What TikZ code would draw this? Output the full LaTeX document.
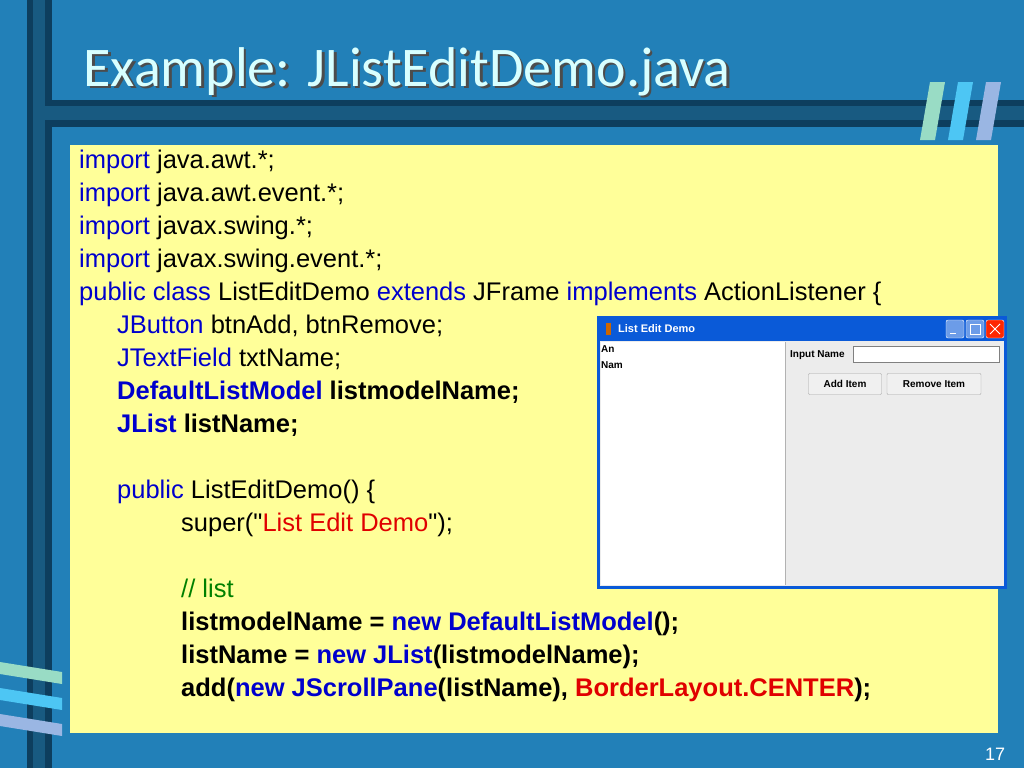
\documentclass[tikz,border=0pt]{standalone}
\usepackage{fontspec}
\setmainfont{Liberation Sans}
\newfontfamily\titlefont{Carlito}
\usetikzlibrary{positioning}
\definecolor{slidebg}{HTML}{2280B8}
\definecolor{bardark}{HTML}{0D3E5E}
\definecolor{codebg}{HTML}{FFFF99}
\definecolor{kwblue}{HTML}{0000CC}
\definecolor{cmgreen}{HTML}{008000}
\definecolor{strred}{HTML}{E00000}
\definecolor{titlecyan}{HTML}{D8FFFF}
\definecolor{winblue}{HTML}{0A5AD8}
\definecolor{wingray}{HTML}{ECECEC}
\newcommand{\kw}[1]{\textcolor{kwblue}{#1}}
\begin{document}
\begin{tikzpicture}[x=1pt,y=-1pt]
  \tikzset{codeline/.style={anchor=base west, inner sep=0pt, font=\fontsize{25.5}{28}\selectfont},
           swing/.style={inner sep=0pt, font=\fontsize{10}{11}\selectfont\bfseries},
           jbutton/.style={draw=gray!70, fill=gray!12, rounded corners=1pt, minimum height=21pt, swing}}
  \fill[slidebg] (0,0) rectangle (1024,768);
  \useasboundingbox (0,0) rectangle (1024,768);
  % frame bars
  \fill[bardark] (27,0) rectangle (52,768);
  \fill[slidebg!70!black] (33,0) rectangle (45,768);
  \fill[bardark] (45,100) rectangle (1024,127);
  \fill[slidebg!70!black] (45,106) rectangle (1024,120);
  % logo top right
  \foreach \xo/\c in {0/cyan!40!green!40, 28/cyan!70, 56/cyan!50!blue!40}
    \fill[\c] (930+\xo,82) -- (945+\xo,82) -- (935+\xo,140) -- (920+\xo,140) -- cycle;
  % logo bottom left
  \foreach \yo/\c in {0/cyan!40!green!40, 26/cyan!70, 52/cyan!50!blue!40}
    \fill[\c] (0,662+\yo) -- (62,672+\yo) -- (62,684+\yo) -- (0,674+\yo) -- cycle;
  % title
  \node (title) [anchor=base west, text=titlecyan, font=\titlefont\fontsize{56}{60}\selectfont,
    preaction={}] at (80,86) {\textcolor{black!70}{\rlap{\hspace{2.5pt}\raisebox{-2.5pt}{Example: JListEditDemo.java}}}Example: JListEditDemo.java};
  % code box
  \fill[codebg] (70,145) rectangle (998,733);
  \node (l1) [codeline] at (79,168) {\kw{import} java.awt.*;};
  \node (l2) [codeline] at (79,201) {\kw{import} java.awt.event.*;};
  \node (l3) [codeline] at (79,234) {\kw{import} javax.swing.*;};
  \node (l4) [codeline] at (79,267) {\kw{import} javax.swing.event.*;};
  \node (l5) [codeline] at (79,300) {\kw{public class} ListEditDemo \kw{extends} JFrame \kw{implements} ActionListener \{};
  \node (l6) [codeline] at (117,333) {\kw{JButton} btnAdd, btnRemove;};
  \node (l7) [codeline] at (117,366) {\kw{JTextField} txtName;};
  \node (l8) [codeline] at (117,399) {\bfseries\kw{DefaultListModel} listmodelName;};
  \node (l9) [codeline] at (117,432) {\bfseries\kw{JList} listName;};
  \node (l10) [codeline] at (117,498) {\kw{public} ListEditDemo() \{};
  \node (l11) [codeline] at (181,531) {super(\textquotedbl\textcolor{strred}{List Edit Demo}\textquotedbl);};
  \node (l12) [codeline] at (181,597) {\textcolor{cmgreen}{// list}};
  \node (l13) [codeline] at (181,630) {\bfseries listmodelName = \kw{new DefaultListModel}();};
  \node (l14) [codeline] at (181,663) {\bfseries listName = \kw{new JList}(listmodelName);};
  \node (l15) [codeline] at (181,696) {\bfseries add(\kw{new JScrollPane}(listName), \textcolor{strred}{BorderLayout.CENTER});};
  % swing window
  \fill[winblue] (597,316) rectangle (1007,589);
  \fill[wingray] (600,341) rectangle (1004,586);
  \fill[white] (601,342) rectangle (785,585);
  \draw[gray!60] (785.5,342) -- (785.5,585);
  \node (wintitle) [swing, text=white, anchor=west, font=\fontsize{11}{12}\selectfont\bfseries] at (618,329) {List Edit Demo};
  \fill[orange!80!black] (606,323) rectangle (611,335);
  \foreach \bx/\c in {946/winblue!60, 966/winblue!60, 986/red!70!orange}
    \draw[white, fill=\c, rounded corners=2pt] (\bx,320) rectangle (\bx+18,338);
  \draw[white, thick] (990,324) -- (1000,334) (1000,324) -- (990,334);
  \draw[white, thick] (970,324) rectangle (980,334);
  \draw[white, thick] (950,333) -- (956,333);
  \node (itemA) [swing, anchor=north west] at (601,345) {An};
  \node (itemB) [swing, anchor=north west] at (601,361) {Nam};
  \node (inlabel) [swing, anchor=west] at (790,355) {Input Name};
  \draw[gray, fill=white] (853,346) rectangle (999,362);
  \node (btnadd) [jbutton, minimum width=73pt] at (845,384) {Add Item};
  \node (btnremove) [jbutton, minimum width=94pt] at (934,384) {Remove Item};
  % page number
  \node (page) [text=white, font=\fontsize{18}{20}\selectfont] at (995,754) {17};
\end{tikzpicture}
\end{document}
